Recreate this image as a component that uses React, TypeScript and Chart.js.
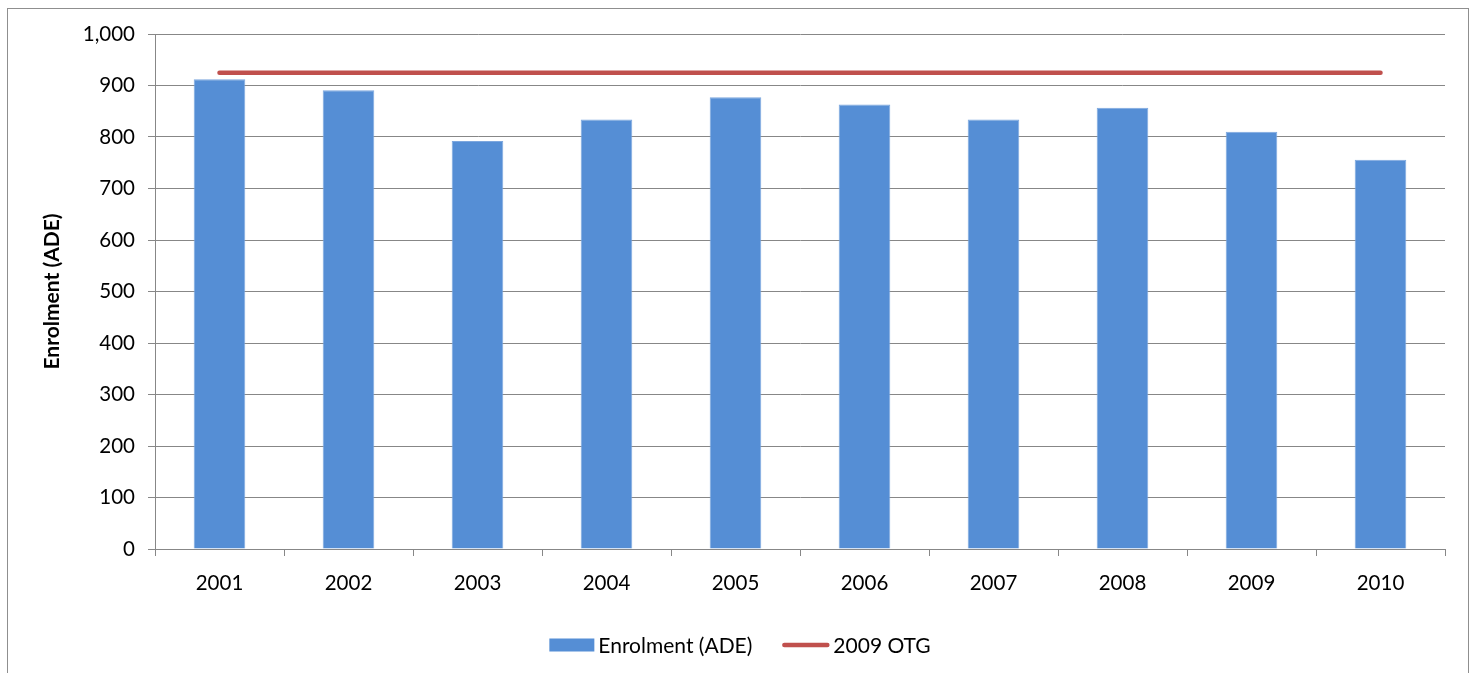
import React, { useEffect, useRef } from "react";
import { Chart, registerables } from "chart.js";

Chart.register(...registerables);

const categories = ["2001", "2002", "2003", "2004", "2005", "2006", "2007", "2008", "2009", "2010"];
const enrolment = [912, 891, 792, 834, 877, 863, 834, 857, 810, 756];
const otg = [925, 925, 925, 925, 925, 925, 925, 925, 925, 925];
const yTicks = [0, 100, 200, 300, 400, 500, 600, 700, 800, 900, 1000];

const FONT = "Lato";
const FONT_SIZE = 20.5;
const GRID = "#878787";
const BAR_COLOR = "#558ED5";
const LINE_COLOR = "#C0504D";

const legendPlugin = {
  id: "excelLegend",
  afterDraw(chart: any) {
    const ctx = chart.ctx;
    const ds = chart.data.datasets;
    ctx.save();
    ctx.font = `21px ${FONT}`;
    ctx.textBaseline = "middle";
    ctx.textAlign = "left";
    ctx.fillStyle = "#000";
    const boxW = 45;
    const lineW = 47;
    const gapText = 4;
    const gapItems = 30;
    const w1 = ctx.measureText(ds[0].label).width;
    const w2 = ctx.measureText(ds[1].label).width;
    const total = boxW + gapText + w1 + gapItems + lineW + gapText + w2;
    let x = 740 - total / 2;
    const cy = chart.chartArea.bottom + 96;
    ctx.fillStyle = ds[0].backgroundColor;
    ctx.fillRect(x, cy - 6.5, boxW, 13);
    x += boxW + gapText;
    ctx.fillStyle = "#000";
    ctx.fillText(ds[0].label, x, cy + 1);
    x += w1 + gapItems;
    ctx.strokeStyle = ds[1].borderColor;
    ctx.lineWidth = 4.5;
    ctx.lineCap = "round";
    ctx.beginPath();
    ctx.moveTo(x + 2, cy);
    ctx.lineTo(x + lineW - 2, cy);
    ctx.stroke();
    x += lineW + gapText;
    ctx.fillText(ds[1].label, x, cy + 1);
    ctx.restore();
  },
};

export default function App() {
  const ref = useRef<HTMLCanvasElement | null>(null);

  useEffect(() => {
    if (!ref.current) return;
    const chart = new Chart(ref.current, {
      type: "bar",
      data: {
        labels: categories,
        datasets: [
          {
            type: "bar",
            label: "Enrolment (ADE)",
            data: enrolment,
            backgroundColor: BAR_COLOR,
            borderColor: "#7DA7DE",
            borderWidth: 1,
            barPercentage: 0.4,
            categoryPercentage: 1,
            order: 2,
          },
          {
            type: "line",
            label: "2009 OTG",
            data: otg,
            borderColor: LINE_COLOR,
            backgroundColor: LINE_COLOR,
            borderWidth: 4.5,
            borderCapStyle: "round",
            pointRadius: 0,
            pointHoverRadius: 0,
            fill: false,
            order: 1,
          },
        ] as any,
      },
      options: {
        responsive: false,
        animation: false,
        devicePixelRatio: 1,
        layout: { padding: { left: 30, right: 31, top: 34, bottom: 64 } },
        plugins: {
          legend: { display: false },
          tooltip: { enabled: false },
        },
        scales: {
          x: {
            offset: true,
            grid: {
              display: true,
              drawOnChartArea: false,
              drawTicks: true,
              tickLength: 7,
              color: GRID,
              offset: true,
            },
            border: { display: true, color: GRID, width: 1 },
            ticks: {
              color: "#000",
              font: { family: FONT, size: FONT_SIZE },
              padding: 15,
              maxRotation: 0,
              autoSkip: false,
            },
            afterFit(scale: any) {
              scale.height = 60;
            },
          },
          y: {
            min: 0,
            max: 1000,
            afterBuildTicks(scale: any) {
              scale.ticks = yTicks.map((v) => ({ value: v }));
            },
            grid: {
              color: GRID,
              lineWidth: 1,
              drawTicks: true,
              tickLength: 7,
            },
            border: { display: true, color: GRID, width: 1 },
            ticks: {
              color: "#000",
              font: { family: FONT, size: FONT_SIZE },
              padding: 13,
              callback: (v: any) => Number(v).toLocaleString("en-US"),
            },
            title: {
              display: true,
              text: "Enrolment (ADE)",
              color: "#000",
              font: { family: FONT, size: 21, weight: "bold" },
              padding: { top: 10, bottom: 0 },
            },
            afterFit(scale: any) {
              scale.width = 125;
            },
          },
        },
      },
      plugins: [legendPlugin],
    });
    return () => chart.destroy();
  }, []);

  return (
    <div
      style={{
        position: "fixed",
        left: 0,
        top: 0,
        width: 1476,
        height: 673,
        overflow: "hidden",
        background: "#fff",
      }}
    >
      <div
        style={{
          position: "absolute",
          left: 7,
          top: 8,
          width: 1462,
          height: 720,
          border: "1px solid #8f8f8f",
          boxSizing: "border-box",
        }}
      />
      <canvas
        ref={ref}
        width={1476}
        height={673}
        style={{ position: "absolute", left: 0, top: 0, width: 1476, height: 673 }}
      />
    </div>
  );
}
